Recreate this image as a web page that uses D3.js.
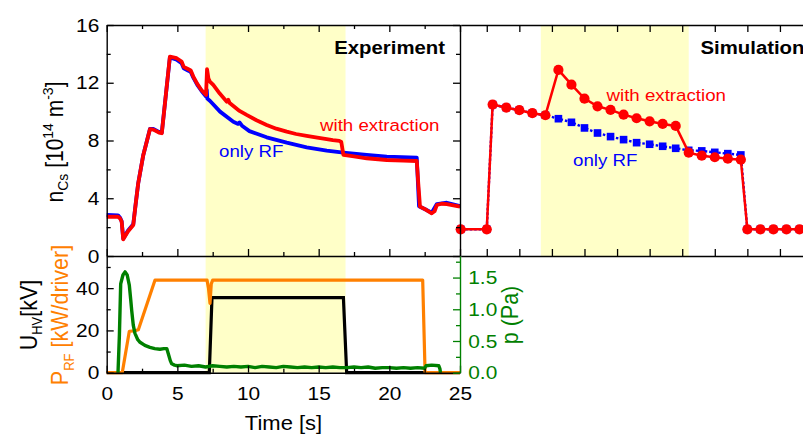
<!DOCTYPE html>
<html>
<head>
<meta charset="utf-8">
<script src="https://cdn.jsdelivr.net/npm/d3@7"></script>
<style>
  body { margin: 0; background: #fff; }
</style>
</head>
<body>
<div id="chart"></div>
<script>
// ---- data ----
// experiment, [time (s), n_Cs (1e14 m^-3)]
const expWithExtraction = [
  [0, 2.72], [0.8, 2.72], [0.95, 2.6], [1.06, 2.38], [1.17, 1.15], [1.5, 1.7], [1.88, 2.15],
  [2.05, 3.6], [2.23, 5.04], [2.59, 7.0], [3.06, 8.78], [3.3, 8.75], [3.7, 8.55], [3.9, 8.5],
  [4.47, 13.81], [4.95, 13.7], [5.3, 13.47], [5.45, 13.1], [5.75, 12.95], [5.95, 12.85],
  [6.13, 12.43], [6.41, 11.92], [6.7, 11.5], [7.03, 11.16], [7.1, 12.94], [7.2, 12.3],
  [7.3, 12.08], [7.54, 11.85], [8.0, 11.25], [8.5, 10.69], [8.6, 10.82], [8.7, 10.6],
  [9.4, 10.05], [9.9, 9.77], [10.6, 9.4], [11.32, 9.08], [12.0, 8.82], [12.74, 8.61],
  [13.4, 8.45], [14.15, 8.32], [14.9, 8.2], [15.57, 8.09], [16.0, 8.02], [16.46, 7.97],
  [16.6, 7.9], [16.75, 7.0], [17.5, 6.9], [18.4, 6.77], [19.82, 6.65], [21.0, 6.6],
  [21.94, 6.58], [22.05, 5.0], [22.17, 3.42], [22.6, 3.2], [23.0, 2.96], [23.2, 3.1],
  [23.36, 3.53], [23.7, 3.62], [24.07, 3.6], [25, 3.42]
];
const expOnlyRF = [
  [0, 2.84], [0.8, 2.82], [0.95, 2.65], [1.06, 2.4], [1.17, 1.2], [1.5, 1.75], [1.88, 2.2],
  [2.05, 3.6], [2.23, 5.04], [2.59, 7.0], [3.06, 8.8], [3.3, 8.8], [3.7, 8.6], [3.9, 8.55],
  [4.47, 13.75], [4.95, 13.6], [5.3, 13.35], [5.45, 13.0], [5.75, 12.85], [5.95, 12.75],
  [6.13, 12.35], [6.41, 11.85], [6.7, 11.45], [7.03, 11.05], [7.08, 11.5], [7.12, 10.9],
  [7.3, 10.75], [8.02, 10.0], [8.96, 9.3], [9.3, 9.15], [9.4, 9.25], [9.6, 9.0], [10.1, 8.65],
  [11.32, 8.22], [12.74, 7.85], [14.15, 7.53], [15.57, 7.3], [16.75, 7.16], [18.4, 7.0],
  [19.82, 6.88], [21.94, 6.81], [22.1, 3.45], [22.6, 3.2], [23.0, 3.0], [23.36, 3.6],
  [24.07, 3.69], [25, 3.45]
];

// simulation (own time axis)
const simTime = [0, 2, 2.45, 3.5, 4.5, 5.5, 6.5, 7.5, 8.5, 9.5, 10.5, 11.5, 12.5, 13.5,
  14.5, 15.5, 16.5, 17.5, 18.5, 19.5, 20.5, 21.5, 22, 23, 24, 25, 26];
const simWithExtraction = [1.85, 1.85, 10.49, 10.28, 10.1, 9.89, 9.75, 12.89, 11.87, 10.9,
  10.37, 10.12, 9.79, 9.54, 9.33, 9.15, 9.01, 7.16, 6.95, 6.84, 6.74, 6.67,
  1.85, 1.85, 1.85, 1.85, 1.85];
const simOnlyRF = [1.85, 1.85, 10.49, 10.28, 10.1, 9.89, 9.75, 9.51, 9.26, 8.87, 8.52,
  8.27, 8.06, 7.85, 7.74, 7.6, 7.46, 7.32, 7.28, 7.18, 7.09, 7.0,
  1.85, 1.85, 1.85, 1.85, 1.85];

// lower panel, [time (s), value]
const powerRF = [[0, 0], [1.1, 0], [1.6, 19.6], [2.0, 19.8], [2.24, 20.3], [3.42, 43.8],
  [7.1, 43.8], [7.2, 40], [7.31, 32.8], [7.4, 42], [7.5, 43.8], [22.36, 43.8], [22.53, 0], [25, 0]];
const voltageHV = [[0, 0], [7.26, 0], [7.45, 35.5], [16.75, 35.5], [16.98, 0], [25, 0]];
const pressure = [
  [0.8, 0], [0.9, 0.6], [0.99, 1.4], [1.15, 1.54], [1.3, 1.59], [1.45, 1.54], [1.6, 1.38],
  [1.7, 1.15], [1.77, 0.98], [1.88, 0.75], [2.0, 0.62], [2.2, 0.52], [2.36, 0.48], [2.7, 0.43],
  [3.06, 0.4], [3.4, 0.38], [3.77, 0.37], [4.05, 0.38], [4.25, 0.38], [4.36, 0.3], [4.5, 0.19],
  [4.6, 0.14], [4.8, 0.12], [4.95, 0.11], [5.5, 0.12], [6.0, 0.1], [6.5, 0.11], [7.0, 0.09],
  [7.5, 0.11], [8.0, 0.1], [8.5, 0.09], [9.0, 0.1], [9.5, 0.09], [10.0, 0.1], [10.5, 0.08],
  [11.0, 0.1], [11.5, 0.09], [12.0, 0.08], [12.5, 0.1], [13.0, 0.09], [13.5, 0.08], [14.0, 0.09],
  [14.5, 0.08], [15.0, 0.09], [15.5, 0.08], [16.0, 0.09], [16.5, 0.08], [17.0, 0.08], [17.5, 0.09],
  [18.0, 0.08], [18.5, 0.09], [19.0, 0.07], [19.5, 0.08], [20.0, 0.08], [20.5, 0.07], [21.0, 0.08],
  [21.5, 0.07], [22.0, 0.08], [22.5, 0.07], [22.6, 0.11], [23.0, 0.12], [23.5, 0.11],
  [23.58, 0.06], [23.62, 0]
];

const extractionExp = [7.0, 16.9];
const extractionSim = [6.15, 17.5];

const timeMajor = [0, 5, 10, 15, 20, 25];
const timeMinor = [2.5, 7.5, 12.5, 17.5, 22.5];
const simTicks = [2, 4.5, 7, 9.5, 12, 14.5, 17, 19.5, 22, 24.5];
const nMajor = [0, 4, 8, 12, 16];
const nMinor = [2, 6, 10, 14];
const kvMajor = [0, 20, 40];
const kvMinor = [10, 30, 50];
const pMajor = [0, 0.5, 1.0, 1.5];
const pMinor = [0.25, 0.75, 1.25, 1.75];

// ---- drawing ----
const W = 803, H = 435;
const FONT = "'Liberation Sans', Arial, sans-serif";
const SX = 1.1; // figure text is slightly wide
const ORANGE = "#ff8000", GREEN = "#008000";

const svg = d3.select("#chart").append("svg")
  .attr("width", W).attr("height", H)
  .style("font-family", FONT);

const x = d3.scaleLinear().domain([0, 25]).range([106.7, 460]);
const y = d3.scaleLinear().domain([0, 16]).range([256, 25]);
const xs = d3.scaleLinear().domain([0, 26.6]).range([460.7, 460.7 + 26.6 * 13.03]);
const yKV = d3.scaleLinear().domain([0, 55.2]).range([372.7, 256]);
const yP = d3.scaleLinear().domain([0, 1.84]).range([372.7, 256]);

// yellow extraction phase
svg.append("rect")
  .attr("x", x(extractionExp[0])).attr("width", x(extractionExp[1]) - x(extractionExp[0]))
  .attr("y", 25).attr("height", 372.7 - 25)
  .attr("fill", "#ffffc8");
svg.append("rect")
  .attr("x", xs(extractionSim[0])).attr("width", xs(extractionSim[1]) - xs(extractionSim[0]))
  .attr("y", 25).attr("height", 256 - 25)
  .attr("fill", "#ffffc8");

// experiment curves
const lineExp = d3.line().x(d => x(d[0])).y(d => y(d[1]));
svg.append("path").datum(expOnlyRF).attr("d", lineExp)
  .attr("fill", "none").attr("stroke", "#0000ff").attr("stroke-width", 3.8)
  .attr("stroke-linejoin", "round");
svg.append("path").datum(expWithExtraction).attr("d", lineExp)
  .attr("fill", "none").attr("stroke", "#ff0000").attr("stroke-width", 3.8)
  .attr("stroke-linejoin", "round");

// simulation curves
const rfPts = simTime.map((t, i) => [t, simOnlyRF[i]]);
const extPts = simTime.map((t, i) => [t, simWithExtraction[i]]);
const lineSim = d3.line().x(d => xs(d[0])).y(d => y(d[1]));
svg.append("path").datum(rfPts).attr("d", lineSim)
  .attr("fill", "none").attr("stroke", "#0000ff").attr("stroke-width", 2.4)
  .attr("stroke-dasharray", "2.5,2");
svg.selectAll(".sq").data(rfPts).join("rect").attr("class", "sq")
  .attr("x", d => xs(d[0]) - 3.8).attr("y", d => y(d[1]) - 3.8)
  .attr("width", 7.6).attr("height", 7.6).attr("fill", "#0000ff");
svg.append("path").datum(extPts).attr("d", lineSim)
  .attr("fill", "none").attr("stroke", "#ff0000").attr("stroke-width", 2.5);
svg.selectAll(".dot").data(extPts).join("circle").attr("class", "dot")
  .attr("cx", d => xs(d[0])).attr("cy", d => y(d[1]))
  .attr("r", 5.1).attr("fill", "#ff0000");

// lower panel curves
const lineKV = d3.line().x(d => x(d[0])).y(d => yKV(d[1]));
const lineP = d3.line().x(d => x(d[0])).y(d => yP(d[1]));
svg.append("path").datum(voltageHV).attr("d", lineKV)
  .attr("fill", "none").attr("stroke", "#000").attr("stroke-width", 3.2);
svg.append("path").datum(powerRF).attr("d", lineKV)
  .attr("fill", "none").attr("stroke", ORANGE).attr("stroke-width", 3.2)
  .attr("stroke-linejoin", "round");
svg.append("path").datum(pressure).attr("d", lineP)
  .attr("fill", "none").attr("stroke", GREEN).attr("stroke-width", 3.4)
  .attr("stroke-linejoin", "round");

// ---- axes: every tick points into the plot ----
function axis(make, scale, tx, ty, majors, minors, color, labelled, pad, fmt) {
  const gMin = svg.append("g").attr("transform", `translate(${tx},${ty})`).attr("color", color)
    .call(make(scale).tickValues(minors).tickSizeInner(-4).tickSizeOuter(0).tickFormat(""));
  gMin.select(".domain").remove();
  const gMaj = svg.append("g").attr("transform", `translate(${tx},${ty})`).attr("color", color)
    .call(make(scale).tickValues(majors).tickSizeInner(-7).tickSizeOuter(0)
      .tickPadding(pad || 6).tickFormat(labelled ? (fmt || d3.format("d")) : ""));
  svg.selectAll("g .tick line").attr("stroke-width", 1.3);
  gMaj.select(".domain").attr("stroke-width", 1.4);
  gMaj.selectAll("text")
    .attr("font-family", FONT).attr("font-size", 19).attr("fill", color)
    .attr("transform", `scale(${SX},1)`);
  return gMaj;
}

// upper left panel
axis(d3.axisLeft, y, 106.7, 0, nMajor, nMinor, "#000", true, 6.7);
axis(d3.axisRight, y, 460, 0, nMajor, nMinor, "#000", false);
axis(d3.axisTop, x, 0, 25, timeMajor, timeMinor, "#000", false);
axis(d3.axisBottom, x, 0, 256, timeMajor, timeMinor, "#000", false);
// upper right panel
axis(d3.axisTop, xs, 0, 25, simTicks, [], "#000", false);
axis(d3.axisBottom, xs, 0, 256, simTicks, [], "#000", false);
// lower panel
axis(d3.axisLeft, yKV, 106.7, 0, kvMajor, kvMinor, "#000", true, 6.7);
axis(d3.axisBottom, x, 0, 372.7, timeMajor, timeMinor, "#000", true, 14);
axis(d3.axisRight, yP, 460, 0, pMajor, pMinor, GREEN, true, 7.5, d3.format(".1f"));

// ---- text ----
function label(parts, tx, ty, opt) {
  const t = svg.append("text")
    .attr("transform", `translate(${tx},${ty}) scale(${SX},1)` + (opt.rot ? " rotate(-90)" : ""))
    .attr("text-anchor", opt.anchor || "start")
    .attr("font-size", opt.size)
    .attr("font-weight", opt.bold ? "bold" : "normal")
    .attr("fill", opt.color || "#000");
  parts.forEach(p => {
    t.append("tspan").attr("font-size", p.size || opt.size).attr("dy", p.dy || 0).text(p.s);
  });
  return t;
}

label([{ s: "Experiment" }], 445, 53.5, { size: 18.5, bold: true, anchor: "end" });
label([{ s: "Simulation" }], 700.5, 53.5, { size: 18.5, bold: true });
label([{ s: "with extraction" }], 320, 131, { size: 17, color: "#ff0000" });
label([{ s: "only RF" }], 219, 157, { size: 17, color: "#0000ff" });
label([{ s: "with extraction" }], 606.5, 101, { size: 17, color: "#ff0000" });
label([{ s: "only RF" }], 573, 166, { size: 17, color: "#0000ff" });

label([{ s: "Time [s]" }], 283.5, 430, { size: 20, anchor: "middle" });

label([
  { s: "n" }, { s: "Cs", size: 14, dy: 5 }, { s: " [10", dy: -5 },
  { s: "14", size: 14, dy: -9 }, { s: " m", dy: 9 }, { s: "-3", size: 14, dy: -9 }, { s: "]", dy: 9 }
], 62.7, 142, { size: 21, rot: true, anchor: "middle" });

label([{ s: "U" }, { s: "HV", size: 13, dy: 5 }, { s: "[kV]", dy: -5 }],
  36.5, 315, { size: 21.5, rot: true, anchor: "middle" });
label([{ s: "P" }, { s: "RF", size: 13, dy: 5 }, { s: " [kW/driver]", dy: -5 }],
  68.3, 315, { size: 21.5, rot: true, anchor: "middle", color: ORANGE });
label([{ s: "p (Pa)" }], 518.3, 315, { size: 21.5, rot: true, anchor: "middle", color: GREEN });
</script>
</body>
</html>
